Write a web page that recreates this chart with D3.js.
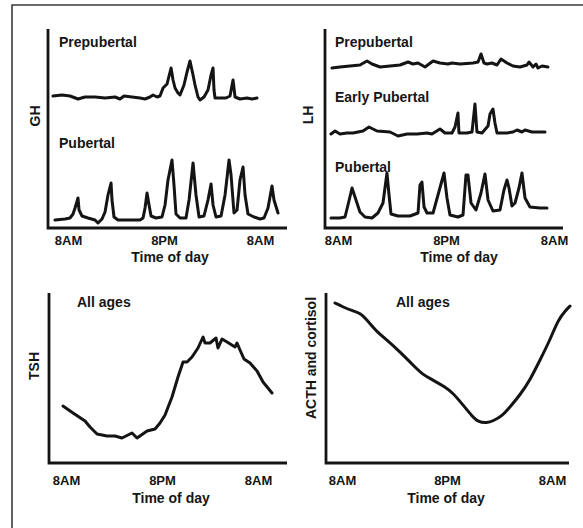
<!DOCTYPE html>
<html><head><meta charset="utf-8">
<script src="https://cdn.jsdelivr.net/npm/d3@7"></script>
<style>
html,body{margin:0;padding:0;background:#fff;}
svg text{font-family:"Liberation Sans",Arial,sans-serif;font-weight:bold;fill:#161616;}
</style></head>
<body>
<svg id="chart" width="583" height="528"></svg>
<script>
// ---- data (time in hours after 8AM, level in arbitrary units) ----
const tickValues = [0, 12, 24];
const tickLabels = ["8AM", "8PM", "8AM"];
const xTitle = "Time of day";

const ghPrepubertal = [[-1.88,132],[-0.75,133],[0.25,132],[1.25,129],[2.13,131],[3.38,131],[4.63,130],[5.88,131],[6.5,129],[7.0,132],[8.0,131],[9.0,130],[9.63,129],[10.25,131],[10.63,133],[11.13,131],[11.5,132],[11.88,140],[12.38,144],[12.88,160],[13.13,148],[13.38,140],[13.75,135],[14.0,133],[14.5,143],[14.88,156],[15.25,167],[15.63,153],[15.88,143],[16.25,131],[16.5,128],[17.0,131],[17.5,138],[17.88,153],[18.13,160],[18.25,138],[18.38,130],[19.0,130],[19.75,130],[20.25,132],[20.63,148],[20.88,131],[21.5,129],[22.38,130],[23.0,129],[23.63,130]];
const ghPubertal = [[-1.63,8],[-0.38,9],[0.25,10],[0.63,14],[0.88,20],[1.25,30],[1.38,18],[1.75,12],[2.5,10],[3.38,8],[3.75,5],[4.25,9],[4.63,16],[5.0,33],[5.38,45],[5.5,28],[5.75,11],[6.25,8],[7.75,8],[9.0,8],[9.38,10],[9.63,20],[9.88,35],[10.13,23],[10.38,12],[11.0,10],[11.75,11],[12.13,23],[12.5,48],[13.0,68],[13.25,43],[13.5,14],[14.0,10],[14.75,10],[15.13,28],[15.63,65],[16.0,33],[16.38,11],[17.0,12],[17.5,28],[17.88,44],[18.13,23],[18.5,11],[19.13,12],[19.63,33],[20.13,68],[20.38,53],[20.75,15],[21.13,18],[21.5,48],[21.88,61],[22.13,33],[22.5,14],[23.25,11],[24.0,9],[24.5,10],[25.0,20],[25.5,42],[25.75,28],[26.25,15]];

const lhPrepubertal = [[-0.67,160],[0.22,161],[1.33,162],[2.44,163],[3.22,167],[3.78,164],[4.67,161],[5.78,162],[6.89,163],[7.78,166],[8.33,164],[8.89,165],[9.67,161],[10.56,167],[11.33,165],[12.22,164],[12.67,165],[13.56,164],[15.0,165],[15.56,166],[15.89,174],[16.22,165],[16.56,164],[17.11,165],[17.67,163],[18.11,169],[18.78,165],[19.44,162],[20.22,161],[21.0,163],[21.22,166],[21.67,161],[22.0,164],[22.22,160],[22.67,162],[23.33,161]];
const lhEarlyPubertal = [[-0.78,94],[-0.33,97],[0.22,94],[1.0,95],[1.67,95],[2.78,97],[3.44,101],[4.33,97],[5.78,96],[6.67,92],[7.67,94],[8.78,94],[9.89,95],[10.44,94],[11.33,99],[11.89,95],[12.67,95],[13.0,101],[13.33,115],[13.44,95],[14.33,95],[14.89,96],[15.22,124],[15.44,96],[16.0,95],[16.67,102],[16.89,114],[17.22,119],[17.44,105],[17.67,95],[18.78,95],[19.44,96],[19.89,98],[20.44,96],[20.78,98],[21.56,96],[23.0,96]];
const lhPubertal = [[-0.78,10],[0.22,10],[0.78,11],[1.11,23],[1.56,40],[2.0,28],[2.44,16],[3.0,11],[3.78,10],[4.44,15],[5.0,25],[5.44,55],[5.67,33],[5.89,14],[6.67,12],[8.0,12],[8.89,15],[9.11,43],[9.33,46],[9.56,21],[9.89,15],[10.56,15],[11.11,33],[11.78,55],[12.11,30],[12.44,13],[13.33,11],[13.89,13],[14.22,53],[14.44,53],[14.78,25],[15.33,18],[15.89,35],[16.33,54],[16.67,28],[17.22,17],[18.0,18],[18.44,38],[18.78,48],[19.0,40],[19.33,22],[19.67,25],[20.11,40],[20.44,55],[20.78,30],[21.33,21],[22.44,20],[23.22,20]];

const tshAllAges = [[-0.38,57],[0.88,50],[2.38,42],[3.0,36],[3.88,29],[5.13,27],[6.13,27],[7.0,25],[8.25,30],[8.88,25],[10.13,32],[11.13,34],[11.75,40],[12.38,48],[13.25,66],[14.0,86],[14.63,101],[15.13,101],[15.75,106],[16.5,115],[17.13,126],[17.38,120],[18.0,120],[18.75,125],[19.0,115],[19.5,124],[20.13,121],[21.13,116],[21.38,120],[21.75,113],[22.25,104],[23.0,100],[23.88,92],[24.63,81],[25.75,70]];
const acthAllAges = [[-0.8,160],[0.11,156],[1.26,152],[2.06,150],[2.86,143],[4.0,131],[5.14,123],[6.63,111],[8.11,98],[9.26,88],[10.4,83],[11.77,76],[12.69,70],[13.83,58],[14.86,47],[15.54,41],[16.57,40],[17.26,42],[18.29,47],[19.2,56],[20.34,68],[21.49,83],[22.63,103],[23.77,123],[24.69,143],[25.49,152],[26.06,157]];

// ---- layout ----
const panels = [
  {yLabel:"GH", frame:{l:48,t:29,b:228,r:287}, xr:[68,260], yMax:200, yLabelX:35, yLabelY:116,
   tickY:245, titleX:170, titleY:262,
   series:[{d:ghPrepubertal,label:"Prepubertal",lx:59,ly:47},{d:ghPubertal,label:"Pubertal",lx:59,ly:148}]},
  {yLabel:"LH", frame:{l:325,t:29,b:228,r:563}, xr:[338,554], yMax:200, yLabelX:308, yLabelY:115,
   tickY:245, titleX:459, titleY:262,
   series:[{d:lhPrepubertal,label:"Prepubertal",lx:335,ly:47},{d:lhEarlyPubertal,label:"Early Pubertal",lx:335,ly:102},{d:lhPubertal,label:"Pubertal",lx:335,ly:172}]},
  {yLabel:"TSH", frame:{l:49,t:293,b:463,r:287}, xr:[66,258], yMax:170, yLabelX:34, yLabelY:366,
   tickY:485, titleX:171, titleY:503,
   series:[{d:tshAllAges,label:"All ages",lx:77,ly:307}]},
  {yLabel:"ACTH and cortisol", frame:{l:326,t:293,b:463,r:569}, xr:[342,552], yMax:170, yLabelX:311, yLabelY:358,
   tickY:485, titleX:446, titleY:503, smooth:true,
   series:[{d:acthAllAges,label:"All ages",lx:396,ly:307}]}
];

const svg = d3.select("#chart");
// outer frame (top & left edges visible)
svg.append("path").attr("d","M12,528 V5 H583").attr("fill","none").attr("stroke","#3a3a3a").attr("stroke-width",1.6);

panels.forEach(p => {
  const f = p.frame;
  const x = d3.scaleLinear().domain([0,24]).range(p.xr);
  const y = d3.scaleLinear().domain([0,p.yMax]).range([f.b, f.b - p.yMax]);
  const g = svg.append("g");
  // axis frame
  g.append("path").attr("d",`M${f.l},${f.t} V${f.b} H${f.r}`)
    .attr("fill","none").attr("stroke","#141414").attr("stroke-width",2.8);
  // tick labels
  const ax = d3.axisBottom(x).tickValues(tickValues).tickSize(0)
    .tickFormat((d,i)=>tickLabels[i]);
  const axg = g.append("g").attr("transform",`translate(0,${p.tickY})`).call(ax);
  axg.select(".domain").remove();
  axg.selectAll("text").attr("dy",0).attr("y",0).style("font-size","13px")
    .style("font-family","Liberation Sans, Arial, sans-serif").style("font-weight","bold").attr("fill","#161616");
  g.append("text").attr("x",p.titleX).attr("y",p.titleY).attr("text-anchor","middle")
    .style("font-size","14px").text(xTitle);
  // y label
  g.append("text").attr("transform",`translate(${p.yLabelX},${p.yLabelY}) rotate(-90)`)
    .attr("text-anchor","middle").attr("dominant-baseline","central")
    .style("font-size","14px").text(p.yLabel);
  const line = d3.line().x(d=>x(d[0])).y(d=>y(d[1]))
    .curve(p.smooth ? d3.curveBasis : d3.curveLinear);
  p.series.forEach(s => {
    g.append("path").datum(s.d).attr("d",line).attr("fill","none")
      .attr("stroke","#141414").attr("stroke-width",3)
      .attr("stroke-linejoin","round").attr("stroke-linecap","round");
    g.append("text").attr("x",s.lx).attr("y",s.ly).style("font-size","14px").text(s.label);
  });
});
</script>
</body></html>
